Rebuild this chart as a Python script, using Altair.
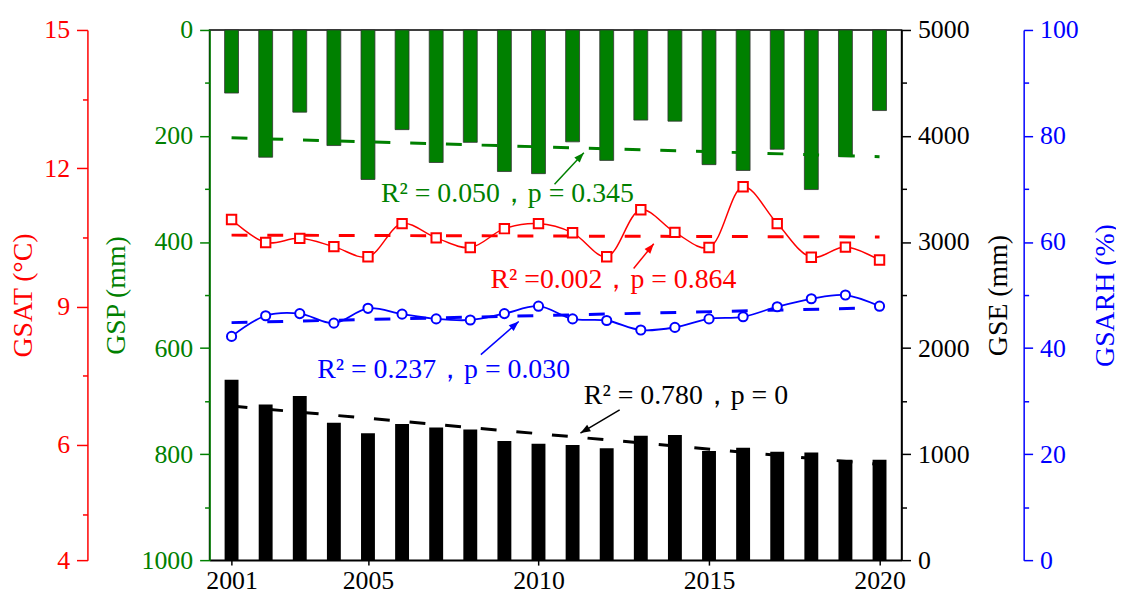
import altair as alt
import pandas as pd

# ---------------- data ----------------
years = list(range(2001, 2021))
gsp = [119, 240, 155, 218, 282, 188, 250, 212, 267, 271, 211, 246, 170, 172, 254, 265, 225, 301, 239, 152]
gse = [1701, 1467, 1548, 1295, 1196, 1283, 1252, 1233, 1124, 1098, 1086, 1055, 1173, 1180, 1030, 1061, 1023, 1014, 946, 946]
gsat = [10.89, 10.39, 10.48, 10.30, 10.08, 10.80, 10.49, 10.28, 10.69, 10.80, 10.60, 10.08, 11.10, 10.61, 10.28, 11.60, 10.80, 10.07, 10.29, 10.01]
gsarh = [42.2, 46.1, 46.5, 44.7, 47.5, 46.4, 45.5, 45.3, 46.5, 47.9, 45.5, 45.2, 43.4, 43.9, 45.5, 45.9, 47.8, 49.3, 50.0, 47.9]

trend_years = [2001, 2020]
gsp_trend = [203.5, 239]
gse_trend = [1454, 902]
gsat_trend = [10.55, 10.51]
gsarh_trend = [44.8, 47.6]

ann_text = ["R² = 0.050，p = 0.345", "R² =0.002，p = 0.864", "R² = 0.237，p = 0.030", "R² = 0.780，p = 0"]
ann_year = [2005.38, 2008.59, 2003.51, 2011.33]
ann_value = [324.0, 9.394, 34.27, 1470]
arrow_tail_year = [2010.47, 2012.79, 2008.31, 2012.38]
arrow_tail_value = [290.8, 9.825, 38.77, 1416.7]
arrow_head_year = [2011.33, 2013.38, 2009.42, 2011.23]
arrow_head_value = [231.7, 10.363, 45.0, 1198.5]
arrow_angle = [43.5, 39.6, 49.0, 239.8]

x_ticks = [2001, 2005, 2010, 2015, 2020]
gsp_ticks = [0, 200, 400, 600, 800, 1000]
gsp_minor = [100, 300, 500, 700, 900]
gse_ticks = [0, 1000, 2000, 3000, 4000, 5000]
gse_minor = [500, 1500, 2500, 3500, 4500]
gsat_ticks = [3.5, 6, 9, 12, 15]
gsat_minor = [4.5, 7.5, 10.5, 13.5]
gsarh_ticks = [0, 20, 40, 60, 80, 100]
gsarh_minor = [10, 30, 50, 70, 90]

# ---------------- styles ----------------
FONT = "Liberation Serif"
GREEN = "#008000"
RED = "#ff0000"
BLUE = "#0000ff"
BLACK = "#000000"
W, H = 697, 534

df = pd.DataFrame({"year": years, "gsp": gsp, "gse": gse, "gsat": gsat, "gsarh": gsarh})

def tdf(vals):
    return pd.DataFrame({"year": trend_years, "v": vals})

def adf(i):
    return pd.DataFrame({"year": [ann_year[i]], "v": [ann_value[i]], "label": [ann_text[i]],
                         "ty": [arrow_tail_year[i]], "tv": [arrow_tail_value[i]],
                         "hy": [arrow_head_year[i]], "hv": [arrow_head_value[i]]})

x_scale = alt.Scale(domain=[2000.5, 2020.5], nice=False, zero=False)
x_axis = alt.Axis(values=x_ticks, format="d", tickSize=5, tickWidth=1.5, tickColor=BLACK,
                  domainColor=BLACK, domainWidth=1.5, labelColor=BLACK, labelFont=FONT,
                  labelFontSize=26, labelPadding=3, grid=False, title=None, labelFlush=False)

def X(field="year"):
    return alt.X(field + ":Q", scale=x_scale, axis=x_axis)

def yaxis(color, orient, offset, values, tick, title=None, title_x=None, labels=True,
          domain=True, label_expr=None):
    kw = dict(orient=orient, offset=offset, values=values, tickSize=tick, tickColor=color,
              tickWidth=1.5, domainColor=color, domainWidth=1.5, labelColor=color,
              labelFont=FONT, labelFontSize=26, labelPadding=7, grid=False, format="d",
              domain=domain, labels=labels, labelFlush=False, labelOverlap=False)
    if title:
        kw.update(title=title, titleColor=color, titleFont=FONT, titleFontSize=28,
                  titleFontWeight="normal", titleAngle=270, titleX=title_x, titleY=H / 2,
                  titleAlign="center", titleBaseline="middle")
    else:
        kw["title"] = None
    if label_expr:
        kw["labelExpr"] = label_expr
    return alt.Axis(**kw)

s_gsp = alt.Scale(domain=[0, 1000], reverse=True, nice=False, zero=False)
s_gse = alt.Scale(domain=[0, 5000], nice=False)
s_gsat = alt.Scale(domain=[3.5, 15], nice=False, zero=False)
s_gsarh = alt.Scale(domain=[0, 100], nice=False)

ax_gsp = yaxis(GREEN, "left", 0, gsp_ticks, 10, "GSP (mm)", -94)
ax_gsp_m = yaxis(GREEN, "left", 0, gsp_minor, 5, labels=False, domain=False)
ax_gsat = yaxis(RED, "left", 123, gsat_ticks, 11, "GSAT (°C)", -64,
                label_expr="datum.value < 4 ? '4' : datum.label")
ax_gsat_m = yaxis(RED, "left", 123, gsat_minor, 5, labels=False, domain=False)
ax_gse = yaxis(BLACK, "right", 0, gse_ticks, 9, "GSE (mm)", 98)
ax_gse_m = yaxis(BLACK, "right", 0, gse_minor, 5, labels=False, domain=False)
ax_gsarh = yaxis(BLUE, "right", 123, gsarh_ticks, 9, "GSARH (%)", 82)
ax_gsarh_m = yaxis(BLUE, "right", 123, gsarh_minor, 5, labels=False, domain=False)

base = alt.Chart(df)
layers = []

# GSP (green bars hanging from top)
layers.append(base.mark_bar(size=14, color=GREEN, stroke="#333333", strokeWidth=0.8, opacity=1)
              .encode(x=X(), y=alt.Y("gsp:Q", scale=s_gsp, axis=ax_gsp)))
layers.append(base.mark_point(opacity=0).encode(x=X(), y=alt.Y("gsp:Q", scale=s_gsp, axis=ax_gsp_m)))
# GSE (black bars)
layers.append(base.mark_bar(size=14, color=BLACK, opacity=1)
              .encode(x=X(), y=alt.Y("gse:Q", scale=s_gse, axis=ax_gse)))
layers.append(base.mark_point(opacity=0).encode(x=X(), y=alt.Y("gse:Q", scale=s_gse, axis=ax_gse_m)))
# GSAT
layers.append(base.mark_line(color=RED, strokeWidth=1.5, interpolate="catmull-rom")
              .encode(x=X(), y=alt.Y("gsat:Q", scale=s_gsat, axis=ax_gsat)))
layers.append(base.mark_point(opacity=0).encode(x=X(), y=alt.Y("gsat:Q", scale=s_gsat, axis=ax_gsat_m)))
# GSARH
layers.append(base.mark_line(color=BLUE, strokeWidth=1.8, interpolate="catmull-rom")
              .encode(x=X(), y=alt.Y("gsarh:Q", scale=s_gsarh, axis=ax_gsarh)))
layers.append(base.mark_point(opacity=0).encode(x=X(), y=alt.Y("gsarh:Q", scale=s_gsarh, axis=ax_gsarh_m)))

# trend lines
dash = dict(strokeWidth=3, strokeDash=[16, 20])
for vals, sc, col in [(gsp_trend, s_gsp, GREEN), (gse_trend, s_gse, BLACK),
                      (gsat_trend, s_gsat, RED), (gsarh_trend, s_gsarh, BLUE)]:
    layers.append(alt.Chart(tdf(vals)).mark_line(color=col, **dash)
                  .encode(x=X(), y=alt.Y("v:Q", scale=sc, axis=None)))

# markers
layers.append(base.mark_point(shape="square", size=90, filled=True, fill="white", stroke=RED,
                              strokeWidth=2, opacity=1)
              .encode(x=X(), y=alt.Y("gsat:Q", scale=s_gsat, axis=None)))
layers.append(base.mark_point(shape="circle", size=85, filled=True, fill="white", stroke=BLUE,
                              strokeWidth=2, opacity=1)
              .encode(x=X(), y=alt.Y("gsarh:Q", scale=s_gsarh, axis=None)))

# annotations
arrow_shape = "M0,0L0.75,2L-0.75,2Z"
for i, (sc, col) in enumerate([(s_gsp, GREEN), (s_gsat, RED), (s_gsarh, BLUE), (s_gse, BLACK)]):
    a = alt.Chart(adf(i))
    layers.append(a.mark_text(align="left", baseline="alphabetic", font=FONT, fontSize=28, color=col)
                  .encode(x=X(), y=alt.Y("v:Q", scale=sc, axis=None), text="label:N"))
    layers.append(a.mark_rule(color=col, strokeWidth=1.5)
                  .encode(x=X("ty"), y=alt.Y("tv:Q", scale=sc, axis=None), x2="hy:Q", y2="hv:Q"))
    layers.append(a.mark_point(shape=arrow_shape, size=100, filled=True, color=col, opacity=1,
                               angle=arrow_angle[i])
                  .encode(x=X("hy"), y=alt.Y("hv:Q", scale=sc, axis=None)))

chart = (alt.layer(*layers)
         .resolve_scale(y="independent")
         .properties(width=W, height=H,
                     autosize=alt.AutoSizeParams(type="none"),
                     padding={"left": 203, "top": 20, "right": 216, "bottom": 35})
         .configure_axis(labelFont=FONT, titleFont=FONT)
         .configure_text(font=FONT)
         .configure_view(stroke=BLACK, strokeWidth=1.5))

chart.save("out.html", embed_options={"renderer": "svg", "actions": False})
